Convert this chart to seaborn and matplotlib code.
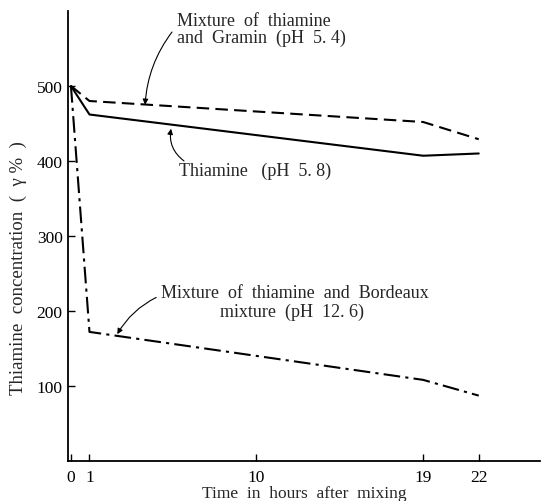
import matplotlib
matplotlib.use("Agg")
import matplotlib.pyplot as plt
import seaborn as sns
import pandas as pd

hours = [0, 1, 19, 22]
thiamine = [500, 462, 407, 410]
gramin = [500, 480, 452, 429]
bordeaux = [500, 172, 108, 87]

series_names = ["Thiamine", "Gramin", "Bordeaux"]
xticks = [0, 1, 10, 19, 22]
yticks = [100, 200, 300, 400, 500]

rows = []
for name, vals in zip(series_names, [thiamine, gramin, bordeaux]):
    for h, v in zip(hours, vals):
        rows.append({"hours": h, "conc": v, "series": name})
df = pd.DataFrame(rows)

sns.set_theme(style="ticks")
plt.rcParams["font.family"] = ["Liberation Serif", "DejaVu Serif"]

fig, ax = plt.subplots(figsize=(5.41, 5.02), dpi=100)
fig.subplots_adjust(left=0.126, right=0.998, top=0.976, bottom=0.08)

sns.lineplot(data=df, x="hours", y="conc", style="series",
             dashes={"Thiamine": "", "Gramin": (6, 3), "Bordeaux": (8, 2.5, 1.5, 2.5)},
             color="black", linewidth=1.5, legend=False, ax=ax)

ax.set_xlim(-0.15, 25.3)
ax.set_ylim(0, 600)
ax.set_xticks(xticks)
ax.set_xticklabels([str(t) for t in xticks])
ax.set_yticks(yticks)
ax.tick_params(direction="in", length=5, width=1, labelsize=12.5, colors="black", pad=4)
ax.tick_params(axis="x", pad=6)
for s in ["top", "right"]:
    ax.spines[s].set_visible(False)
for s in ["left", "bottom"]:
    ax.spines[s].set_color("black")
    ax.spines[s].set_linewidth(1.3)

ax.set_xlabel("Time  in  hours  after  mixing", fontsize=12.5, labelpad=0)
ax.set_ylabel("Thiamine  concentration  (  γ %  )", fontsize=13.5)
ax.yaxis.set_label_coords(-0.087, 0.43)

arrow = dict(arrowstyle="-|>", color="black", lw=0.8, mutation_scale=8,
             shrinkA=0, shrinkB=0)
fs = 13
ax.text(5.7, 576, "Mixture  of  thiamine\nand  Gramin  (pH  5. 4)", fontsize=fs,
        ha="left", va="center", linespacing=1.0)
ax.annotate("", xy=(4.0, 475), xytext=(5.45, 572),
            arrowprops=dict(arrow, connectionstyle="arc3,rad=0.15"))
ax.text(5.85, 387, "Thiamine   (pH  5. 8)", fontsize=fs, ha="left", va="center")
ax.annotate("", xy=(5.4, 443), xytext=(6.1, 400),
            arrowprops=dict(arrow, connectionstyle="arc3,rad=-0.3"))
ax.text(4.85, 224, "Mixture  of  thiamine  and  Bordeaux", fontsize=fs, ha="left", va="center")
ax.text(11.9, 200, "mixture  (pH  12. 6)", fontsize=fs, ha="center", va="center")
ax.annotate("", xy=(2.5, 169), xytext=(4.6, 218),
            arrowprops=dict(arrow, connectionstyle="arc3,rad=0.15"))

fig.savefig("out.png", dpi=100)
